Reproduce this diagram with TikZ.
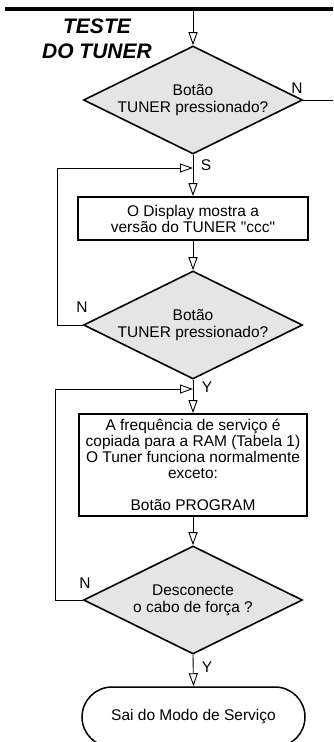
\documentclass[tikz,border=0pt]{standalone}
\usepackage{fontspec}
\setmainfont[Ligatures=TeXOff]{Liberation Sans}
\usetikzlibrary{shapes.geometric, arrows.meta}

\tikzset{
  decisao/.style={diamond, draw, line width=1.6pt, fill=gray!20, aspect=2.03,
    inner sep=0pt, minimum width=219pt, minimum height=108pt, align=center,
    font=\fontsize{15.5}{17}\selectfont},
  caixa/.style={rectangle, draw, line width=1.8pt, inner sep=0pt, align=center,
    font=\fontsize{15.5}{16}\selectfont},
  fluxo/.style={line width=0.9pt, -{Triangle[open, length=13pt, width=9pt]}},
  linha/.style={line width=0.9pt},
  rotulo/.style={font=\fontsize{15.5}{17}\selectfont}
}

\begin{document}
\begin{tikzpicture}[x=1pt, y=-1pt]
    % Page frame
    \useasboundingbox (0,0) rectangle (333,742);
    \clip (0,0) rectangle (333,742);

    % Header bar and title
    \draw[line width=4pt] (5,9) -- (333,9);
    \coordinate (topo) at (193,9);
    \node[align=center, font=\fontsize{21}{25}\bfseries\itshape\selectfont] (titulo) at (97,38.5) {TESTE\\DO TUNER};

    % Steps
    \node[decisao] (dec1) at (193,100) {Botão\\TUNER pressionado?};
    \node[caixa, minimum width=230pt, minimum height=43pt] (disp) at (193,218.5)
        {O Display mostra a\\versão do TUNER "ccc"};
    \node[decisao] (dec2) at (193,325) {Botão\\TUNER pressionado?};
    \node[caixa, minimum width=228pt, minimum height=102pt] (freq) at (193,465)
        {A frequência de serviço é\\copiada para a RAM (Tabela 1)\\O Tuner funciona normalmente\\exceto:\\[16pt]Botão PROGRAM};
    \node[decisao] (dec3) at (193,600) {Desconecte\\o cabo de força ?};
    \node[draw, line width=1.5pt, rounded corners=30pt, minimum width=223pt, minimum height=60pt,
        font=\fontsize{15.5}{17}\selectfont] (fim) at (193.5,717) {Sai do Modo de Serviço};

    % Junctions
    \coordinate (j1) at (193,168);
    \coordinate (j2) at (193,389);
    \coordinate (saida) at (333,100);

    % Connectors
    \draw[fluxo] (topo) -- (dec1.north);
    \draw[linha] (dec1.east) -- (saida);
    \draw[fluxo] (dec1.south) -- (disp.north);
    \draw[fluxo] (disp.south) -- (dec2.north);
    \draw[fluxo] (dec2.west) -- ++(-25,0) |- (j1);
    \draw[fluxo] (dec2.south) -- (freq.north);
    \draw[fluxo] (freq.south) -- (dec3.north);
    \draw[fluxo] (dec3.west) -- ++(-27,0) |- (j2);
    \draw[fluxo] (dec3.south) -- (fim.north);

    % Labels
    \node[rotulo] (n1) at (297,88) {N};
    \node[rotulo] (s1) at (206,165) {S};
    \node[rotulo] (n2) at (82,307) {N};
    \node[rotulo] (y2) at (207,387) {Y};
    \node[rotulo] (n3) at (85,583) {N};
    \node[rotulo] (y3) at (207,667) {Y};
\end{tikzpicture}
\end{document}
